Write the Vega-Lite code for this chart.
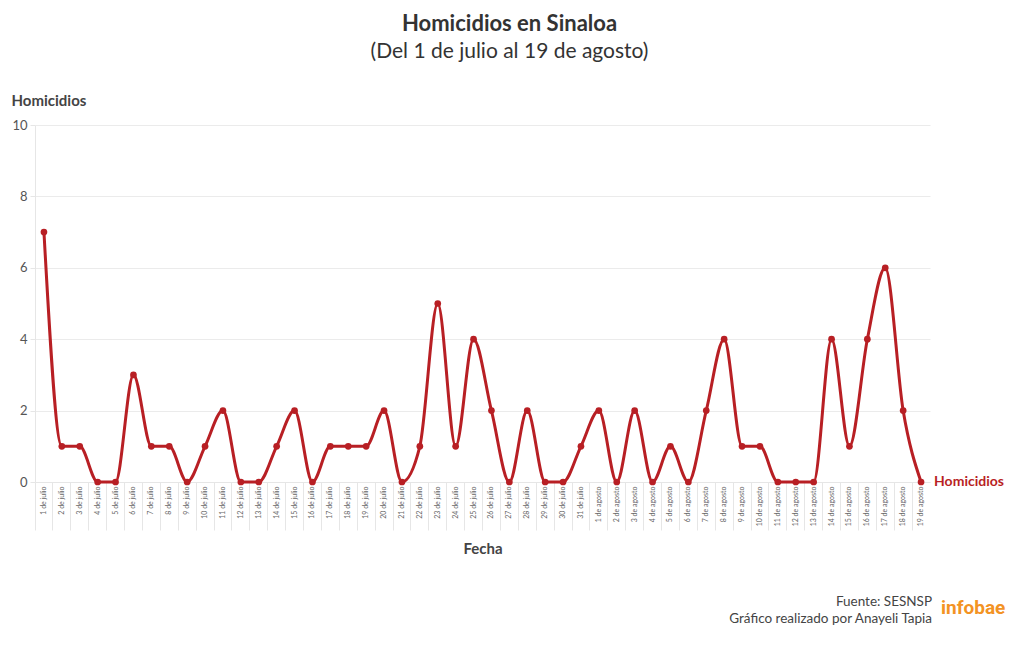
{
  "$schema": "https://vega.github.io/schema/vega-lite/v6.json",
  "width": 895,
  "height": 357,
  "autosize": {"type": "none"},
  "padding": {"left": 35, "top": 125, "right": 90, "bottom": 168},
  "background": "white",
  "config": {
    "font": "Lato",
    "view": {"stroke": null}
  },
  "title": {
    "text": "Homicidios en Sinaloa",
    "subtitle": "(Del 1 de julio al 19 de agosto)",
    "fontSize": 22,
    "fontWeight": "bold",
    "color": "#333333",
    "subtitleFontSize": 21,
    "subtitleColor": "#333333",
    "subtitleFontWeight": "normal",
    "subtitlePadding": 5,
    "anchor": "middle",
    "frame": "group",
    "dx": 27,
    "offset": 30
  },
  "data": {
    "values": [
      {"fecha": "1 de julio", "homicidios": 7},
      {"fecha": "2 de julio", "homicidios": 1},
      {"fecha": "3 de julio", "homicidios": 1},
      {"fecha": "4 de julio", "homicidios": 0},
      {"fecha": "5 de julio", "homicidios": 0},
      {"fecha": "6 de julio", "homicidios": 3},
      {"fecha": "7 de julio", "homicidios": 1},
      {"fecha": "8 de julio", "homicidios": 1},
      {"fecha": "9 de julio", "homicidios": 0},
      {"fecha": "10 de julio", "homicidios": 1},
      {"fecha": "11 de julio", "homicidios": 2},
      {"fecha": "12 de julio", "homicidios": 0},
      {"fecha": "13 de julio", "homicidios": 0},
      {"fecha": "14 de julio", "homicidios": 1},
      {"fecha": "15 de julio", "homicidios": 2},
      {"fecha": "16 de julio", "homicidios": 0},
      {"fecha": "17 de julio", "homicidios": 1},
      {"fecha": "18 de julio", "homicidios": 1},
      {"fecha": "19 de julio", "homicidios": 1},
      {"fecha": "20 de julio", "homicidios": 2},
      {"fecha": "21 de julio", "homicidios": 0},
      {"fecha": "22 de julio", "homicidios": 1},
      {"fecha": "23 de julio", "homicidios": 5},
      {"fecha": "24 de julio", "homicidios": 1},
      {"fecha": "25 de julio", "homicidios": 4},
      {"fecha": "26 de julio", "homicidios": 2},
      {"fecha": "27 de julio", "homicidios": 0},
      {"fecha": "28 de julio", "homicidios": 2},
      {"fecha": "29 de julio", "homicidios": 0},
      {"fecha": "30 de julio", "homicidios": 0},
      {"fecha": "31 de julio", "homicidios": 1},
      {"fecha": "1 de agosto", "homicidios": 2},
      {"fecha": "2 de agosto", "homicidios": 0},
      {"fecha": "3 de agosto", "homicidios": 2},
      {"fecha": "4 de agosto", "homicidios": 0},
      {"fecha": "5 de agosto", "homicidios": 1},
      {"fecha": "6 de agosto", "homicidios": 0},
      {"fecha": "7 de agosto", "homicidios": 2},
      {"fecha": "8 de agosto", "homicidios": 4},
      {"fecha": "9 de agosto", "homicidios": 1},
      {"fecha": "10 de agosto", "homicidios": 1},
      {"fecha": "11 de agosto", "homicidios": 0},
      {"fecha": "12 de agosto", "homicidios": 0},
      {"fecha": "13 de agosto", "homicidios": 0},
      {"fecha": "14 de agosto", "homicidios": 4},
      {"fecha": "15 de agosto", "homicidios": 1},
      {"fecha": "16 de agosto", "homicidios": 4},
      {"fecha": "17 de agosto", "homicidios": 6},
      {"fecha": "18 de agosto", "homicidios": 2},
      {"fecha": "19 de agosto", "homicidios": 0}
    ]
  },
  "encoding": {
    "x": {
      "field": "fecha",
      "type": "ordinal",
      "sort": null,
      "scale": {"type": "band", "paddingInner": 0, "paddingOuter": 0},
      "axis": {
        "title": "Fecha",
        "titleFontSize": 15,
        "titleFontWeight": "bold",
        "titleColor": "#444444",
        "titleY": 66,
        "titleBaseline": "middle",
        "labelAngle": -90,
        "labelFontSize": 7,
        "labelColor": "#666666",
        "labelPadding": -44,
        "bandPosition": 0,
        "tickSize": 48,
        "tickColor": "#e6e6e6",
        "domain": true,
        "domainColor": "#e6e6e6",
        "grid": false
      }
    },
    "y": {
      "field": "homicidios",
      "type": "quantitative",
      "scale": {"domain": [0, 10], "nice": false},
      "axis": {
        "title": "Homicidios",
        "titleAngle": 0,
        "titleAlign": "left",
        "titleBaseline": "middle",
        "titleX": -24,
        "titleY": -25,
        "titleFontSize": 15,
        "titleFontWeight": "bold",
        "titleColor": "#444444",
        "values": [0, 2, 4, 6, 8, 10],
        "labelFontSize": 13,
        "labelColor": "#555555",
        "labelPadding": 3,
        "tickSize": 5,
        "tickColor": "#e6e6e6",
        "domainColor": "#e6e6e6",
        "gridColor": "#ebebeb",
        "grid": true
      }
    }
  },
  "layer": [
    {
      "mark": {"type": "line", "interpolate": "monotone", "color": "#b81f24", "strokeWidth": 3}
    },
    {
      "mark": {"type": "point", "filled": true, "opacity": 1, "color": "#b81f24", "size": 45}
    },
    {
      "transform": [{"filter": "datum.fecha === '19 de agosto'"}],
      "layer": [
        {
          "mark": {"type": "text", "align": "left", "baseline": "middle", "dx": 13, "fontSize": 14, "fontWeight": "bold", "color": "#b81f24"},
          "encoding": {"text": {"value": "Homicidios"}}
        },
        {
          "mark": {"type": "text", "align": "right", "baseline": "middle", "dx": 11, "dy": 120, "fontSize": 13.5, "color": "#444444"},
          "encoding": {"text": {"value": "Fuente: SESNSP"}}
        },
        {
          "mark": {"type": "text", "align": "right", "baseline": "middle", "dx": 11, "dy": 137, "fontSize": 13.5, "color": "#444444"},
          "encoding": {"text": {"value": "Gráfico realizado por Anayeli Tapia"}}
        },
        {
          "mark": {"type": "text", "align": "left", "baseline": "middle", "dx": 20, "dy": 126, "fontSize": 19, "fontWeight": "bold", "font": "Roboto", "color": "#f39324"},
          "encoding": {"text": {"value": "infobae"}}
        }
      ]
    }
  ]
}
